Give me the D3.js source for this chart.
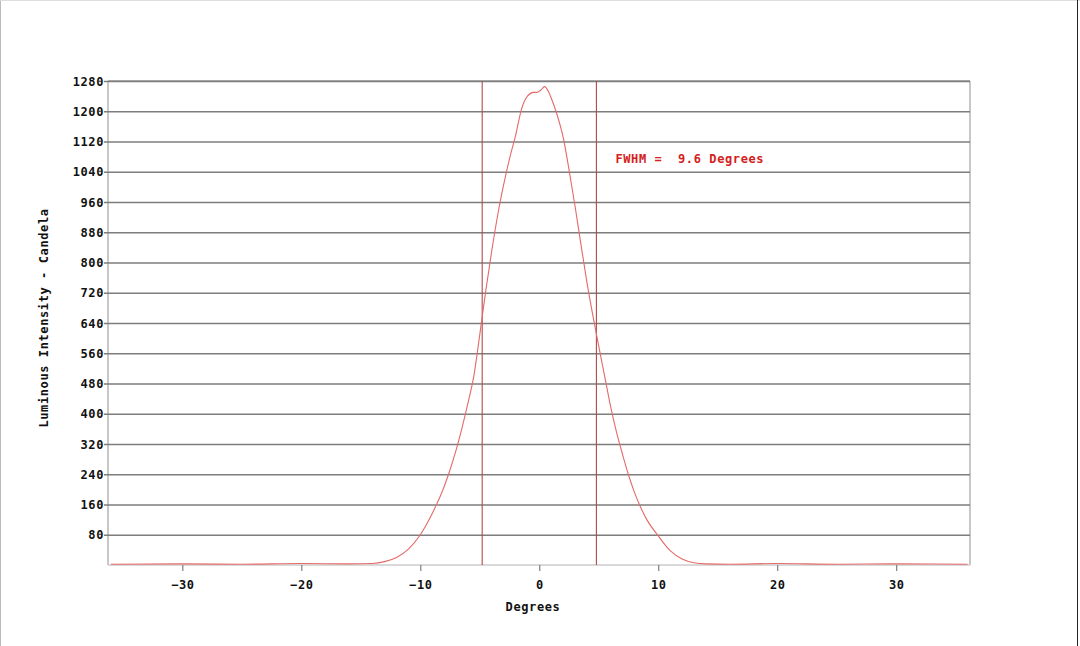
<!DOCTYPE html>
<html>
<head>
<meta charset="utf-8">
<script src="https://cdn.jsdelivr.net/npm/d3@7"></script>
<style>
  html, body { margin: 0; padding: 0; background: #fff; }
  svg { display: block; }
  text { font-family: "DejaVu Sans Mono", "Liberation Mono", monospace; font-weight: bold; }
</style>
</head>
<body>
<svg id="chart" width="1080" height="646"></svg>
<script>
// ---- data ----
const degrees = [-36, -30, -25, -20, -16, -14, -13, -12, -11, -10, -9, -8, -7.5, -7, -6.5, -6, -5.5, -5, -4.5, -4, -3.5, -3, -2.5, -2, -1.5, -1, -0.5, -0.2, 0.1, 0.45, 0.8, 1, 1.5, 2, 2.5, 3, 3.5, 4, 4.5, 5, 5.5, 6, 6.5, 7, 7.5, 8, 9, 10, 11, 12, 13, 14, 16, 20, 25, 30, 36];
const candela = [2, 3, 2, 4, 3, 4, 9, 20, 42, 80, 136, 207, 252, 303, 362, 428, 500, 610, 725, 830, 925, 1005, 1075, 1135, 1205, 1240, 1250, 1250, 1255, 1265, 1250, 1235, 1190, 1132, 1045, 950, 848, 748, 660, 578, 498, 418, 350, 292, 238, 192, 122, 77, 38, 16, 6, 3, 2, 4, 2, 3, 2];
const fwhmLines = [-4.8, 4.8];
const yTicks = [80, 160, 240, 320, 400, 480, 560, 640, 720, 800, 880, 960, 1040, 1120, 1200, 1280];
const xTicks = [-30, -20, -10, 0, 10, 20, 30];
const xTitle = "Degrees";
const yTitle = "Luminous Intensity - Candela";
const annotation = "FWHM =  9.6 Degrees";

// ---- layout ----
const svg = d3.select("#chart");
const W = 1080, H = 646;
const pL = 108, pR = 970, pT = 81, pB = 565;

const x = d3.scaleLinear().domain([-36.25, 36.2]).range([pL, pR]);
const y = d3.scaleLinear().domain([0, 1280]).range([pB, pT]);

// outer picture border
svg.append("line").attr("x1", 0.5).attr("y1", 0).attr("x2", 0.5).attr("y2", H).attr("stroke", "#bbb");
svg.append("line").attr("x1", 0).attr("y1", 0.5).attr("x2", W).attr("y2", 0.5).attr("stroke", "#ddd");
svg.append("line").attr("x1", W - 2.5).attr("y1", 0).attr("x2", W - 2.5).attr("y2", H).attr("stroke", "#222");

// plot frame
svg.append("line").attr("x1", pL).attr("y1", pT).attr("x2", pR).attr("y2", pT).attr("stroke", "#999").attr("stroke-width", 1.3);
svg.append("line").attr("x1", pR).attr("y1", pT).attr("x2", pR).attr("y2", pB).attr("stroke", "#aaa").attr("stroke-width", 1.3);
svg.append("line").attr("x1", pL).attr("y1", pT).attr("x2", pL).attr("y2", pB).attr("stroke", "#c8c8c8").attr("stroke-width", 2);
svg.append("line").attr("x1", pL).attr("y1", pB).attr("x2", pR).attr("y2", pB).attr("stroke", "#ccc").attr("stroke-width", 1.5);

const fontStyle = sel => sel.attr("fill", "#111")
  .style("font-size", "12px").style("letter-spacing", "0.6px")
  .style("font-family", "'DejaVu Sans Mono', monospace").style("font-weight", "bold");

// y axis with gridlines
const yAxis = d3.axisLeft(y).tickValues(yTicks).tickFormat(d3.format("d")).tickSize(0).tickSizeOuter(0).tickPadding(0);
const gy = svg.append("g").attr("transform", `translate(${pL},0)`).call(yAxis);
gy.select(".domain").remove();
gy.selectAll(".tick line").attr("x1", -4).attr("x2", pR - pL).attr("stroke", "#7d7d7d").attr("stroke-width", 1.3);
gy.selectAll(".tick text").attr("x", -4).attr("dy", "0.35em").call(fontStyle);

// x axis
const xAxis = d3.axisBottom(x).tickValues(xTicks).tickFormat(d3.format("d")).tickSize(6).tickSizeOuter(0).tickPadding(9);
const gx = svg.append("g").attr("transform", `translate(0,${pB})`).call(xAxis);
gx.select(".domain").remove();
gx.selectAll(".tick line").attr("stroke", "#666");
gx.selectAll(".tick text").call(fontStyle);

// FWHM lines
svg.selectAll(".fwhm").data(fwhmLines).enter().append("line")
  .attr("class", "fwhm")
  .attr("x1", d => x(d)).attr("x2", d => x(d))
  .attr("y1", pT).attr("y2", pB)
  .attr("stroke", "#b04a4a").attr("stroke-width", 1.1);

// curve
const pts = degrees.map((d, i) => [d, candela[i]]);
const line = d3.line().x(d => x(d[0])).y(d => y(d[1])).curve(d3.curveMonotoneX);
svg.append("path").datum(pts).attr("d", line)
  .attr("fill", "none").attr("stroke", "#e46a6a").attr("stroke-width", 1.1);

// annotation
svg.append("text").attr("x", x(6.4)).attr("y", y(1075) + 4)
  .call(fontStyle).attr("fill", "#d42020")
  .attr("xml:space", "preserve").style("white-space", "pre")
  .text(annotation);

// titles
svg.append("text").attr("x", 533).attr("y", 611).attr("text-anchor", "middle")
  .call(fontStyle).text(xTitle);
svg.append("text").attr("transform", "translate(48,318) rotate(-90)").attr("text-anchor", "middle")
  .call(fontStyle).text(yTitle);
</script>
</body>
</html>
